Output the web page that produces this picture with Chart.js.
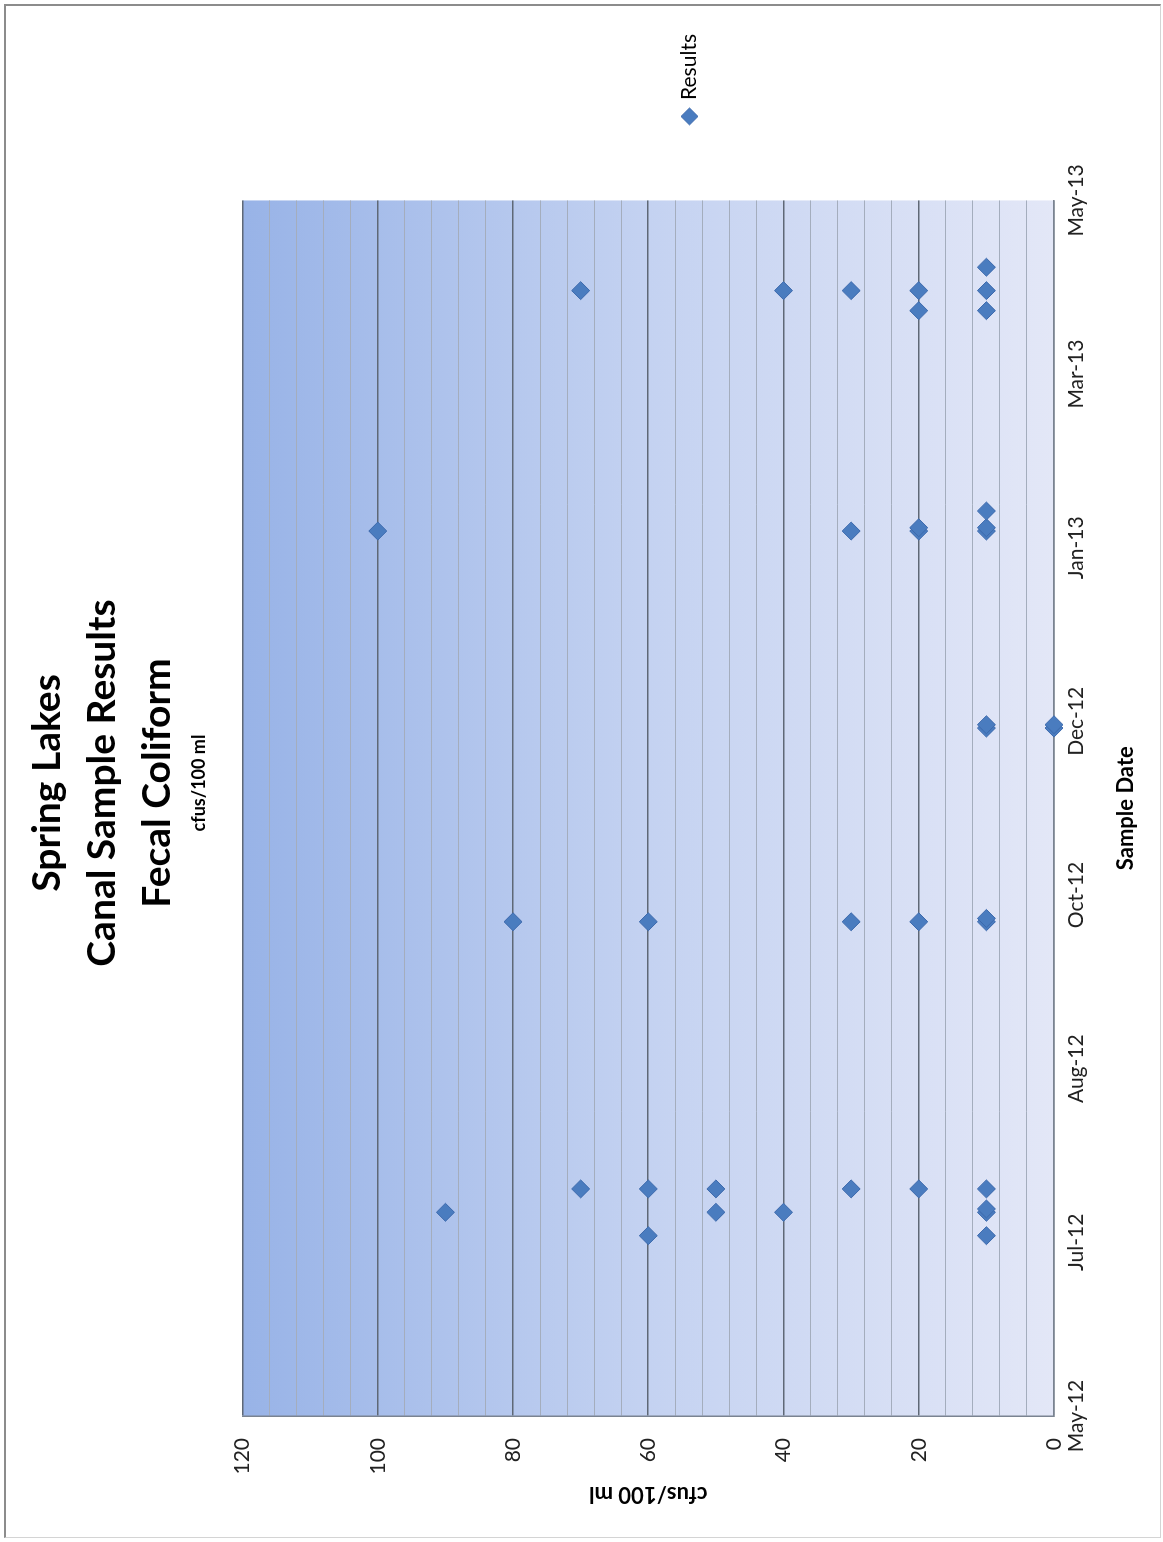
<!DOCTYPE html>
<html>
<head>
<meta charset="utf-8">
<title>Spring Lakes Canal Sample Results</title>
<script src="https://cdn.jsdelivr.net/npm/chart.js@4.4.1/dist/chart.umd.min.js"></script>
<style>
  html, body { margin: 0; padding: 0; background: #fff; overflow: hidden; }
  #page { position: relative; width: 1163px; height: 1542px; overflow: hidden; }
  #frame {
    position: absolute; left: 4px; top: 4px; width: 1154px; height: 1531px;
    border-top: 2px solid #8c8c8c; border-left: 2px solid #8c8c8c;
    border-right: 1px solid #d4d4d4; border-bottom: 1px solid #d4d4d4;
  }
  /* the chart is laid out landscape and turned a quarter left, as in the scan */
  #rot {
    position: absolute; left: 0; top: 0; width: 1542px; height: 1163px;
    transform-origin: 0 0; transform: translate(0, 1542px) rotate(-90deg);
  }
</style>
</head>
<body>
<div id="page">
  <div id="frame"></div>
  <div id="rot"><canvas id="chart" width="1542" height="1163"></canvas></div>
</div>
<script>
// date axis: starts mid May 2012, a label every 52 days
const axisStart = '2012-05-13';
const axisDays = 364;
const tickDays = 52;
const dateTickLabels = ['May-12', 'Jul-12', 'Aug-12', 'Oct-12', 'Dec-12', 'Jan-13', 'Mar-13', 'May-13'];

// one entry per sample
const pointDates = [
  '2012-07-06', '2012-07-06',
  '2012-07-13', '2012-07-13', '2012-07-13', '2012-07-13', '2012-07-14',
  '2012-07-20', '2012-07-20', '2012-07-20', '2012-07-20', '2012-07-20', '2012-07-20',
  '2012-10-08', '2012-10-08', '2012-10-08', '2012-10-08', '2012-10-08', '2012-10-09',
  '2012-12-05', '2012-12-05', '2012-12-06', '2012-12-06',
  '2013-02-02', '2013-02-02', '2013-02-02', '2013-02-02', '2013-02-03', '2013-02-03',
  '2013-02-08',
  '2013-04-09', '2013-04-09',
  '2013-04-15', '2013-04-15', '2013-04-15', '2013-04-15', '2013-04-15',
  '2013-04-22'
];
const pointResults = [
  60, 10,
  90, 50, 40, 10, 10,
  70, 60, 50, 30, 20, 10,
  80, 60, 30, 20, 10, 10,
  10, 0, 10, 0,
  100, 30, 20, 10, 20, 10,
  10,
  20, 10,
  70, 40, 30, 20, 10,
  10
];

const dayMs = 86400000;
const points = pointDates.map((d, i) => ({
  x: (Date.parse(d) - Date.parse(axisStart)) / dayMs,
  y: pointResults[i]
}));

const gridMajor = '#5f6876';
const gridMinor = '#a4adbd';

const plotGradient = {
  id: 'plotGradient',
  beforeDraw(chart) {
    const { ctx, chartArea: a } = chart;
    const g = ctx.createLinearGradient(0, a.top, 0, a.bottom);
    g.addColorStop(0, '#98b3e7');
    g.addColorStop(0.5, '#c4d2f1');
    g.addColorStop(1, '#e3e7f7');
    ctx.save();
    ctx.fillStyle = g;
    ctx.fillRect(a.left, a.top, a.right - a.left, a.bottom - a.top);
    ctx.restore();
  }
};

// Excel put the legend a little below the middle of the side
const legendShift = {
  id: 'legendShift',
  afterLayout(chart) {
    chart.legend.top += 104;
    chart.legend.bottom += 104;
  }
};

Chart.defaults.font.family = 'Lato';

new Chart(document.getElementById('chart'), {
  type: 'scatter',
  data: {
    datasets: [{
      label: 'Results',
      data: points,
      pointStyle: 'rectRot',
      pointRadius: 9,
      pointHoverRadius: 9,
      backgroundColor: '#4a7cbf',
      borderColor: '#3d6aad',
      borderWidth: 1,
      clip: false
    }]
  },
  options: {
    responsive: false,
    animation: false,
    layout: { padding: { top: 8, right: 24, bottom: 0, left: 0 } },
    plugins: {
      title: {
        display: true,
        text: ['Spring Lakes', 'Canal Sample Results', 'Fecal Coliform'],
        color: '#000',
        font: { size: 39, weight: 'bold', lineHeight: 1.41 },
        padding: { top: 12, bottom: 0 }
      },
      subtitle: {
        display: true,
        text: 'cfus/100 ml',
        color: '#000',
        font: { size: 18, weight: 'bold', lineHeight: 1.2 },
        padding: { top: 3, bottom: 33 }
      },
      legend: {
        position: 'right',
        maxWidth: 178,
        labels: {
          usePointStyle: true,
          boxWidth: 12,
          boxHeight: 12,
          padding: 78,
          color: '#000',
          font: { size: 21 }
        }
      },
      tooltip: { enabled: false }
    },
    scales: {
      x: {
        type: 'linear',
        min: 0,
        max: axisDays,
        grid: { display: false, drawTicks: false },
        border: { display: true, color: '#7a8391', width: 1.5 },
        ticks: {
          stepSize: tickDays,
          autoSkip: false,
          maxRotation: 0,
          padding: 10,
          color: '#222',
          font: { size: 21 },
          callback: v => dateTickLabels[Math.round(v / tickDays)]
        },
        title: {
          display: true,
          text: 'Sample Date',
          color: '#000',
          font: { size: 22, weight: 'bold', lineHeight: 1.2 },
          padding: { top: 0, bottom: 24 }
        },
        afterFit: s => { s.height = 109; }
      },
      y: {
        min: 0,
        max: 120,
        grid: {
          drawTicks: false,
          color: c => (c.tick && c.tick.value % 20 === 0) ? gridMajor : gridMinor,
          lineWidth: c => (c.tick && c.tick.value % 20 === 0) ? 1.6 : 1
        },
        border: { display: true, color: '#7a8391', width: 1.5 },
        ticks: {
          stepSize: 4,
          autoSkip: false,
          padding: 22,
          color: '#222',
          font: { size: 21 },
          callback: v => (v % 20 === 0 ? String(v) : '')
        },
        title: {
          display: true,
          text: 'cfus/100 ml',
          color: '#000',
          font: { size: 22, weight: 'bold', lineHeight: 1.2 },
          padding: { top: 35, bottom: 0 }
        },
        afterFit: s => { s.width = 126; }
      }
    }
  },
  plugins: [plotGradient, legendShift]
});
</script>
</body>
</html>
